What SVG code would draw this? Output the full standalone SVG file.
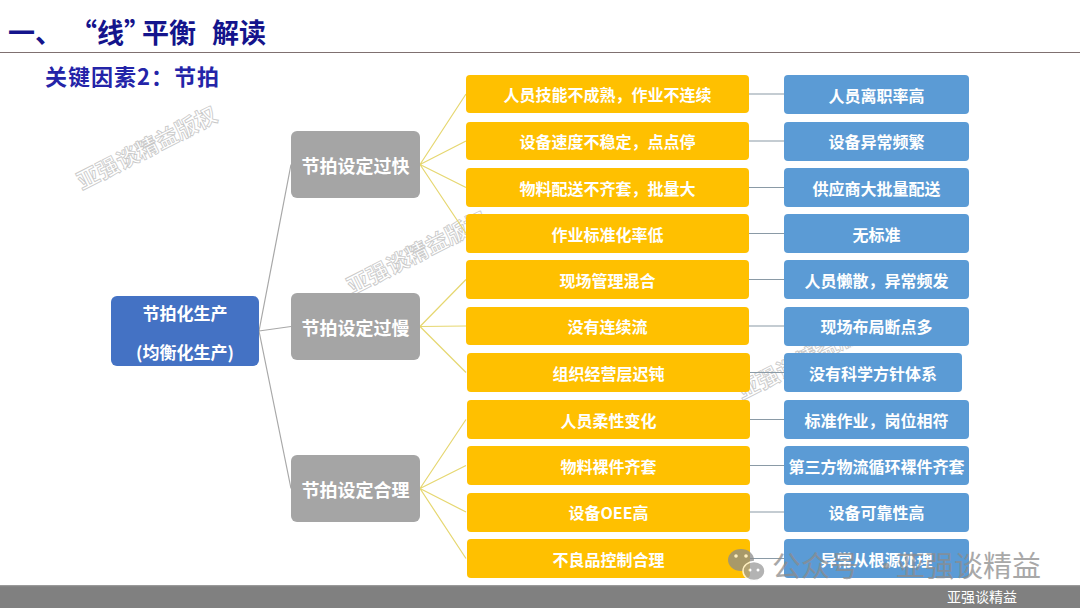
<svg xmlns="http://www.w3.org/2000/svg" width="1080" height="608" viewBox="0 0 1080 608">
<style>
text{font-family:"Noto Sans CJK SC","Noto Sans",sans-serif;font-weight:bold}
.t{fill:#fff;text-anchor:middle;dominant-baseline:central}
.y rect{fill:#FFC000}
.b rect{fill:#5B9BD5}
.g rect{fill:#A5A5A5}
.yt{font-size:16px}
.gt{font-size:18px}
.cr{stroke:#A8A8A8;stroke-width:1.2;fill:none}
.cy{stroke:#E6D770;stroke-width:1.2;fill:none}
.cb{stroke:#8A9AA6;stroke-width:1.2;fill:none}
.wm{font-size:22px;fill:#fff;stroke:#C8C8C8;stroke-width:0.8;font-weight:bold}
</style>
<rect width="1080" height="608" fill="#fff"/>
<!-- title -->
<text y="43" font-size="27" fill="#14148C"><tspan x="8">一、</tspan><tspan x="70">“线”</tspan><tspan x="142">平衡</tspan><tspan x="212">解读</tspan></text>
<line x1="0" y1="52.5" x2="1080" y2="52.5" stroke="#7F7070" stroke-width="1.2"/>
<text x="45" y="85" font-size="22" letter-spacing="1" fill="#2424A8">关键因素2：节拍</text>
<!-- watermarks -->
<g id="watermarks">
<text class="wm" transform="translate(82,190) rotate(-27)">亚强谈精益版权</text>
<text class="wm" transform="translate(352,295) rotate(-27)">亚强谈精益版权</text>
<text class="wm" transform="translate(742,400) rotate(-27)">亚强谈精益版权</text>
</g>
<!-- connectors -->
<g id="connectors">
<path class="cr" d="M259,331 L291,164.5 M259,331 L291,326.5 M259,331 L291,488.5"/>
<path class="cy" d="M420,164.5 L466,94 M420,164.5 L466,141 M420,164.5 L466,187.5 M420,164.5 L466,233.5"/>
<path class="cy" d="M420,326.5 L466,279.5 M420,326.5 L466,326 M420,326.5 L466,372.5"/>
<path class="cy" d="M420,488.5 L466,419.5 M420,488.5 L466,465.5 M420,488.5 L466,512 M420,488.5 L466,558.5"/>
<path class="cb" d="M749,94 H784 M749,141 H784 M749,187.5 H784 M749,233.5 H784 M749,279.5 H784 M749,326 H784 M749,372.5 H784 M749,419.5 H784 M749,465.5 H784 M749,512 H784 M749,558.5 H784"/>
</g>
<!-- root -->
<g id="root">
<rect x="111" y="296" width="148" height="70" rx="6" fill="#4472C4"/>
<text class="t" x="185" y="312" font-size="17">节拍化生产</text>
<text class="t" x="185" y="351" font-size="17">(均衡化生产)</text>
</g>
<!-- middle -->
<g id="mid1" class="g"><rect x="291" y="131" width="129" height="67" rx="6"/><text class="t gt" x="355.5" y="164.5">节拍设定过快</text></g>
<g id="mid2" class="g"><rect x="291" y="293" width="129" height="67" rx="6"/><text class="t gt" x="355.5" y="326.5">节拍设定过慢</text></g>
<g id="mid3" class="g"><rect x="291" y="455" width="129" height="67" rx="6"/><text class="t gt" x="355.5" y="488.5">节拍设定合理</text></g>
<!-- yellow -->
<g id="y1" class="y"><rect x="466" y="75" width="283" height="38" rx="4"/><text class="t yt" x="607.5" y="94">人员技能不成熟，作业不连续</text></g>
<g id="y2" class="y"><rect x="466" y="122" width="283" height="38" rx="4"/><text class="t yt" x="607.5" y="141">设备速度不稳定，点点停</text></g>
<g id="y3" class="y"><rect x="466" y="168" width="283" height="39" rx="4"/><text class="t yt" x="607.5" y="187.5">物料配送不齐套，批量大</text></g>
<g id="y4" class="y"><rect x="466" y="214" width="283" height="39" rx="4"/><text class="t yt" x="607.5" y="233.5">作业标准化率低</text></g>
<g id="y5" class="y"><rect x="466" y="260" width="283" height="39" rx="4"/><text class="t yt" x="607.5" y="279.5">现场管理混合</text></g>
<g id="y6" class="y"><rect x="466" y="307" width="283" height="38" rx="4"/><text class="t yt" x="607.5" y="326">没有连续流</text></g>
<g id="y7" class="y"><rect x="467" y="353" width="283" height="39" rx="4"/><text class="t yt" x="608.5" y="372.5">组织经营层迟钝</text></g>
<g id="y8" class="y"><rect x="467" y="400" width="283" height="39" rx="4"/><text class="t yt" x="608.5" y="419.5">人员柔性变化</text></g>
<g id="y9" class="y"><rect x="467" y="446" width="283" height="39" rx="4"/><text class="t yt" x="608.5" y="465.5">物料裸件齐套</text></g>
<g id="y10" class="y"><rect x="467" y="493" width="283" height="39" rx="4"/><text class="t yt" x="608.5" y="512">设备OEE高</text></g>
<g id="y11" class="y"><rect x="467" y="539" width="283" height="39" rx="4"/><text class="t yt" x="608.5" y="558.5">不良品控制合理</text></g>
<!-- blue -->
<g id="b1" class="b"><rect x="784" y="75" width="185" height="39" rx="4"/><text class="t yt" x="876.5" y="94.5">人员离职率高</text></g>
<g id="b2" class="b"><rect x="784" y="122" width="185" height="39" rx="4"/><text class="t yt" x="876.5" y="141">设备异常频繁</text></g>
<g id="b3" class="b"><rect x="784" y="168" width="185" height="39" rx="4"/><text class="t yt" x="876.5" y="187.5">供应商大批量配送</text></g>
<g id="b4" class="b"><rect x="784" y="214" width="185" height="39" rx="4"/><text class="t yt" x="876.5" y="233.5">无标准</text></g>
<g id="b5" class="b"><rect x="784" y="260" width="185" height="39" rx="4"/><text class="t yt" x="876.5" y="279.5">人员懒散，异常频发</text></g>
<g id="b6" class="b"><rect x="784" y="307" width="185" height="39" rx="4"/><text class="t yt" x="876.5" y="326">现场布局断点多</text></g>
<g id="b7" class="b"><rect x="784" y="353" width="178" height="39" rx="4"/><text class="t yt" x="873" y="372.5">没有科学方针体系</text></g>
<g id="b8" class="b"><rect x="784" y="400" width="185" height="39" rx="4"/><text class="t yt" x="876.5" y="419.5">标准作业，岗位相符</text></g>
<g id="b9" class="b"><rect x="784" y="446" width="185" height="39" rx="4"/><text class="t yt" x="876.5" y="465.5">第三方物流循环裸件齐套</text></g>
<g id="b10" class="b"><rect x="784" y="493" width="185" height="39" rx="4"/><text class="t yt" x="876.5" y="512">设备可靠性高</text></g>
<g id="b11" class="b"><rect x="784" y="539" width="185" height="39" rx="4"/><text class="t yt" x="876.5" y="558.5">异常从根源处理</text></g>
<!-- overlay watermark -->
<g id="wechat" opacity="0.75">
<ellipse cx="741" cy="560" rx="13" ry="11" fill="#8C8C8C"/>
<ellipse cx="754" cy="571" rx="11" ry="9.5" fill="#9A9A9A" stroke="#fff" stroke-width="1.5"/>
<circle cx="736" cy="556" r="1.8" fill="#fff"/><circle cx="746" cy="556" r="1.8" fill="#fff"/>
<circle cx="750" cy="570" r="1.5" fill="#fff"/><circle cx="758" cy="570" r="1.5" fill="#fff"/>
<text y="577" font-size="29" style="font-weight:normal" fill="#8C8C8C"><tspan x="772">公众号</tspan><tspan x="872">·</tspan><tspan x="896">亚强谈精益</tspan></text>
</g>
<!-- bottom bar -->
<rect x="0" y="585" width="1080" height="23" fill="#808080"/>
<rect x="0" y="585" width="1080" height="1.2" fill="#9A9A9A"/>
<text x="947" y="602" font-size="14" style="font-weight:normal" fill="#fff">亚强谈精益</text>
</svg>
